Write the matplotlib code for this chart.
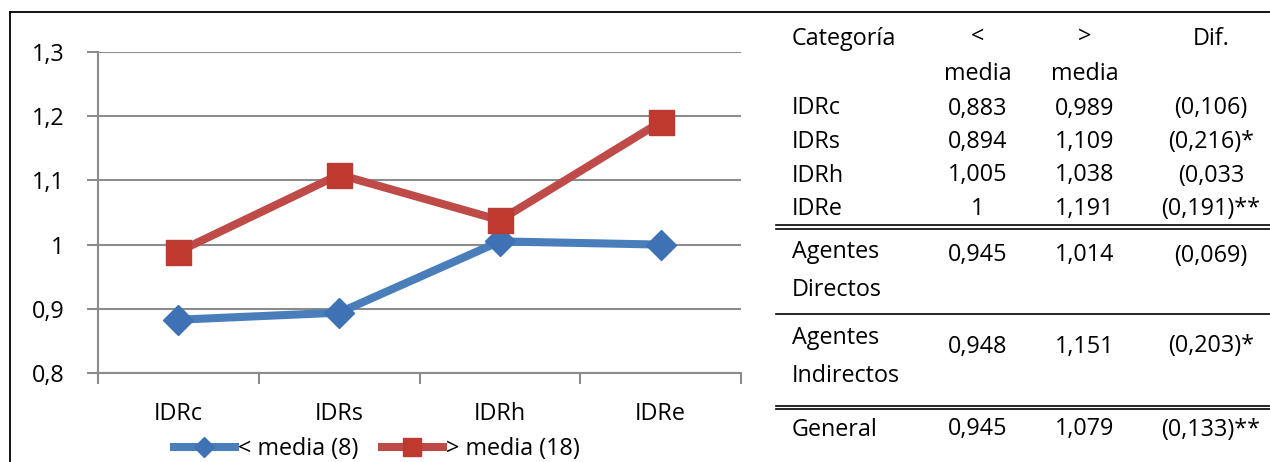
import matplotlib.pyplot as plt
from matplotlib.lines import Line2D

plt.rcParams['font.family'] = ['Open Sans', 'DejaVu Sans']

## indices and group means
categorias = ["IDRc", "IDRs", "IDRh", "IDRe"]
bajo_media = [0.883, 0.894, 1.005, 1.0]
sobre_media = [0.989, 1.109, 1.038, 1.191]
y_ticks = [0.8, 0.9, 1.0, 1.1, 1.2, 1.3]
y_labels = ["0,8", "0,9", "1", "1,1", "1,2", "1,3"]
leyenda = ["< media (8)", "> media (18)"]

# summary table rows
filas_tabla = ["Agentes\nDirectos", "Agentes\nIndirectos", "General"]
bajo_tabla = [0.945, 0.948, 0.945]
sobre_tabla = [1.014, 1.151, 1.079]
dif_idr = ["(0,106)", "(0,216)*", "(0,033", "(0,191)**"]
dif_tabla = ["(0,069)", "(0,203)*", "(0,133)**"]
encabezado = ["Categoría", "<\nmedia", ">\nmedia", "Dif."]

W, H = 1270, 462
FS = 16.8


def px(x):
    return x / W


def py(y):
    return 1 - y / H


def fmt(v):
    return f"{v:.3f}".rstrip('0').rstrip('.').replace('.', ',')


fig = plt.figure(figsize=(W / 100, H / 100), dpi=100)

azul = '#4A7EBB'
rojo = '#BE4B48'
gris = '#8C8C8C'

ax = fig.add_axes([px(98), py(373), px(741) - px(98), py(52) - py(373)])
xs = [i + 0.5 for i in range(len(categorias))]
ax.plot(xs, bajo_media, color=azul, lw=5.8, marker='D', ms=15,
        mfc='#3F72B5', mec='#3F72B5', label=leyenda[0], zorder=3)
ax.plot(xs, sobre_media, color=rojo, lw=5.8, marker='s', ms=18,
        mfc='#C0392F', mec='#B83A36', label=leyenda[1], zorder=3)

ax.set_xlim(0, len(categorias))
ax.set_ylim(0.8, 1.3)
ax.set_yticks(y_ticks)
ax.set_yticklabels(y_labels, fontsize=FS)
ax.set_xticks(range(len(categorias) + 1))
ax.set_xticklabels([])
ax.set_xticks(xs, minor=True)
ax.set_xticklabels(categorias, minor=True, fontsize=FS)
ax.tick_params(axis='x', which='minor', length=0, pad=21)
ax.tick_params(axis='x', which='major', length=8, width=1.5, color=gris)
ax.tick_params(axis='y', length=8, width=1.5, color=gris, pad=16)
ax.grid(axis='y', color=gris, lw=1.5)
ax.set_axisbelow(True)
for s in ['top', 'right']:
    ax.spines[s].set_visible(False)
for s in ['left', 'bottom']:
    ax.spines[s].set_color(gris)
    ax.spines[s].set_linewidth(1.5)

fig.legend(loc='center', bbox_to_anchor=(px(377), py(449)), ncol=2,
           frameon=False, fontsize=FS, handlelength=2.6, handletextpad=0.15,
           columnspacing=1.0, markerscale=0.7)

# frame lines
fig.add_artist(Line2D([px(10), px(1270)], [py(12), py(12)], color='black', lw=1.3))
fig.add_artist(Line2D([px(10), px(10)], [py(12), py(462)], color='black', lw=1.3))

# table
x_cat, x_bajo, x_sobre, x_dif = 792, 978, 1085, 1211
fig.text(px(x_cat), py(39), encabezado[0], fontsize=FS, ha='left', va='center')
for x, t in zip([x_bajo, x_sobre], encabezado[1:3]):
    a, b = t.split("\n")
    fig.text(px(x), py(37), a, fontsize=FS, ha='center', va='center')
    fig.text(px(x), py(74), b, fontsize=FS, ha='center', va='center')
fig.text(px(x_dif), py(39), encabezado[3], fontsize=FS, ha='center', va='center')

for i, c in enumerate(categorias):
    y = 108.5 + i * 33.5
    fig.text(px(x_cat), py(y), c, fontsize=FS, ha='left', va='center')
    fig.text(px(x_bajo), py(y), fmt(bajo_media[i]), fontsize=FS, ha='center', va='center')
    fig.text(px(x_sobre), py(y), fmt(sobre_media[i]), fontsize=FS, ha='center', va='center')
    fig.text(px(x_dif), py(y), dif_idr[i], fontsize=FS, ha='center', va='center')

fila_y = [(252.5, 290.5, 255.5), (338.5, 376.5, 346.5), (429.5, None, 429.5)]
for i, nombre in enumerate(filas_tabla):
    partes = nombre.split("\n")
    y1, y2, yv = fila_y[i]
    fig.text(px(x_cat), py(y1), partes[0], fontsize=FS, ha='left', va='center')
    if y2 is not None:
        fig.text(px(x_cat), py(y2), partes[1], fontsize=FS, ha='left', va='center')
    fig.text(px(x_bajo), py(yv), fmt(bajo_tabla[i]), fontsize=FS, ha='center', va='center')
    fig.text(px(x_sobre), py(yv), fmt(sobre_tabla[i]), fontsize=FS, ha='center', va='center')
    fig.text(px(x_dif), py(yv), dif_tabla[i], fontsize=FS, ha='center', va='center')

for y in [225, 228.5, 314, 405.5, 409]:
    fig.add_artist(Line2D([px(776), px(1270)], [py(y), py(y)], color='black', lw=1.2))

fig.savefig('out.png', dpi=100)
